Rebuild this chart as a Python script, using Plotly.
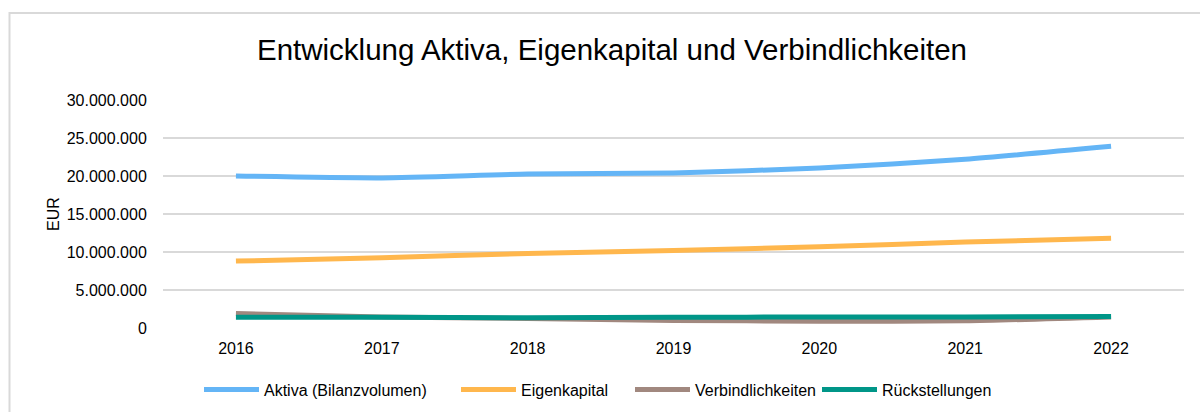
import plotly.graph_objects as go

years = ["2016", "2017", "2018", "2019", "2020", "2021", "2022"]
aktiva = [20000000, 19750000, 20250000, 20400000, 21050000, 22200000, 23900000]
eigenkapital = [8800000, 9250000, 9800000, 10200000, 10700000, 11300000, 11800000]
verbindlichkeiten = [1900000, 1450000, 1250000, 1000000, 900000, 950000, 1450000]
rueckstellungen = [1400000, 1400000, 1350000, 1400000, 1450000, 1450000, 1500000]

names = ["Aktiva (Bilanzvolumen)", "Eigenkapital", "Verbindlichkeiten", "Rückstellungen"]
values = [aktiva, eigenkapital, verbindlichkeiten, rueckstellungen]
colors = ["#64B5F6", "#FFB74D", "#A1887F", "#009688"]
legend_px = [207, 464, 638, 825]  # left edge of each legend sample (page px)

PL, PR = 163, 1184
PW = PR - PL

fig = go.Figure()
font = "Liberation Sans, Arial, sans-serif"
legend_layout = {}
for i, (name, vals, color) in enumerate(zip(names, values, colors)):
    key = "legend" if i == 0 else f"legend{i + 1}"
    fig.add_trace(go.Scatter(
        x=years, y=vals, name=name, mode="lines", legend=key,
        line=dict(color=color, width=5, shape="spline", smoothing=0.6),
    ))
    legend_layout[key] = dict(
        orientation="h", x=(legend_px[i] - 8 - PL) / PW, xanchor="left",
        y=-0.27, yanchor="middle", bgcolor="rgba(0,0,0,0)",
        font=dict(family=font, size=16), itemwidth=55,
    )

fig.update_layout(
    width=1200, height=412,
    margin=dict(l=PL, r=1200 - PR, t=100, b=84, autoexpand=False),
    paper_bgcolor="white", plot_bgcolor="white",
    font=dict(family=font, size=16, color="#000000"),
    title=dict(text="Entwicklung Aktiva, Eigenkapital und Verbindlichkeiten",
               x=0.51, xanchor="center", y=0.88, yanchor="middle",
               font=dict(family=font, size=29.5, color="#000000")),
    showlegend=True,
    xaxis=dict(type="category", range=[-0.5, 6.5], showgrid=False, zeroline=False,
               showline=False, automargin=False,
               ticks="outside", ticklen=6, tickcolor="rgba(0,0,0,0)",
               tickfont=dict(family=font, size=16)),
    yaxis=dict(range=[0, 30000000], tickvals=[0, 5e6, 10e6, 15e6, 20e6, 25e6, 30e6],
               ticktext=["0", "5.000.000", "10.000.000", "15.000.000", "20.000.000",
                         "25.000.000", "30.000.000"],
               showgrid=True, gridcolor="#d9d9d9", gridwidth=1.5,
               zeroline=False, showline=False, automargin=False,
               ticks="outside", ticklen=12, tickcolor="rgba(0,0,0,0)",
               tickfont=dict(family=font, size=16),
               title=dict(text="EUR", font=dict(family=font, size=16), standoff=3)),
    **legend_layout,
)

fig.add_shape(type="rect", xref="paper", yref="paper",
              x0=(9.5 - PL) / PW, x1=(1215 - PL) / PW,
              y0=(328 - 430) / 228, y1=(328 - 13) / 228,
              line=dict(color="#d9d9d9", width=2), fillcolor="rgba(0,0,0,0)", layer="below")

fig.write_html("out.html", config={"displayModeBar": False},
               post_script="document.body.style.margin='0';document.body.style.overflow='hidden';")
